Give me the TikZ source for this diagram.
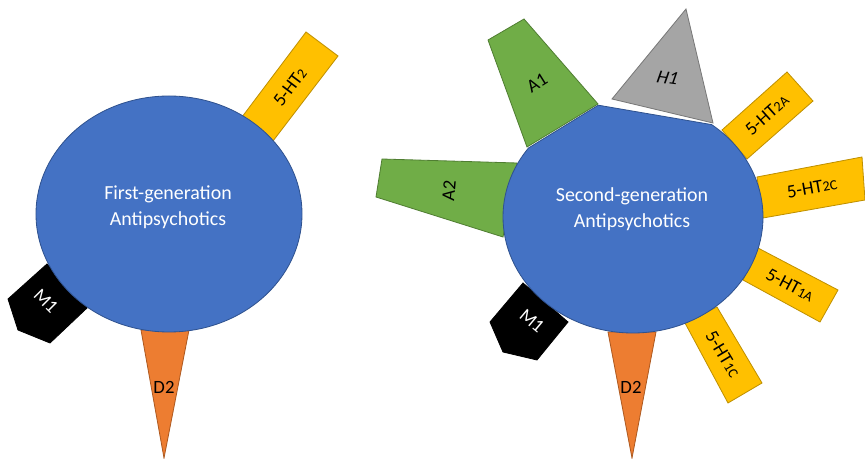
\documentclass[tikz,border=0pt]{standalone}
\usepackage{fontspec}
\setmainfont{Carlito}
\usepackage{tikz}

\definecolor{cellblue}{HTML}{4472C4}
\definecolor{celledge}{HTML}{2F528F}
\definecolor{htyellow}{HTML}{FFC000}
\definecolor{htedge}{HTML}{BF9000}
\definecolor{agreen}{HTML}{70AD47}
\definecolor{aedge}{HTML}{507E32}
\definecolor{dorange}{HTML}{ED7D31}
\definecolor{dedge}{HTML}{AE5A21}
\definecolor{hgray}{HTML}{A5A5A5}
\definecolor{hedge}{HTML}{787878}

\newcommand{\lo}[1]{{\fontsize{12}{12}\selectfont #1}}

\begin{document}
\begin{tikzpicture}[x=0.3mm, y=0.3mm, line width=0.7pt,
    cell/.style={fill=cellblue, draw=celledge},
    ht/.style={fill=htyellow, draw=htedge},
    alpha/.style={fill=agreen, draw=aedge},
    dopa/.style={fill=dorange, draw=dedge},
    hist/.style={fill=hgray, draw=hedge},
    musc/.style={fill=black, draw=black},
    lbl/.style={font=\fontsize{16}{19}\selectfont, inner sep=0pt},
    title/.style={font=\fontsize{17}{22}\selectfont, text=white, align=center}]
    \useasboundingbox (0,0) rectangle (865,459);

    % first generation
    \filldraw[ht] (242,342) -- (306,427) -- (338,403) -- (273,318) -- cycle;
    \filldraw[musc] (47,195) -- (87,151) -- (50,116) -- (18,129) -- (8,160) -- cycle;
    \filldraw[dopa] (141,129) -- (189,129) -- (164,1) -- cycle;
    \filldraw[cell] (169,245) ellipse [x radius=39.9mm, y radius=35.4mm];
    \node[title] (fga) at (168,252) {First-generation\\Antipsychotics};
    \node[lbl, rotate=53] (ht2) at (290,372) {5-HT\lo{2}};
    \node[lbl, rotate=-45, text=white] (m1a) at (46,158) {M1};
    \node[lbl] (d2a) at (164,72) {D2};

    % second generation
    \filldraw[alpha] (488,419) -- (524,440) -- (598,355) -- (527,312) -- cycle;
    \filldraw[alpha] (382,300) -- (517,296) -- (503,222) -- (376,262) -- cycle;
    \filldraw[hist] (686,450) -- (713,336) -- (612,360) -- cycle;
    \filldraw[ht] (722,329) -- (787,387) -- (813,358) -- (747,300) -- cycle;
    \filldraw[ht] (757,282) -- (862,302) -- (865,259) -- (763,241) -- cycle;
    \filldraw[ht] (758,211) -- (838,169) -- (820,137) -- (743,179) -- cycle;
    \filldraw[ht] (717,152) -- (762,76) -- (728,56) -- (685,136) -- cycle;
    \filldraw[musc] (523,176) -- (568,137) -- (537,99) -- (503,107) -- (490,137) -- cycle;
    \filldraw[dopa] (608,127) -- (656,127) -- (632,1) -- cycle;
    \filldraw[cell] (598.3,353.8) -- (711.6,334.4)
        arc[start angle=52.8, end angle=-216.5, x radius=39mm, y radius=34.8mm] -- cycle;
    \node[title] (sga) at (632,250) {Second-generation\\Antipsychotics};
    \node[lbl, rotate=32] (a1) at (537,376) {A1};
    \node[lbl, rotate=85] (a2) at (449,268) {A2};
    \node[lbl, rotate=-8, xslant=0.2] (h1) at (668,381) {H1};
    \node[lbl, rotate=42] (ht2a) at (767,344) {5-HT\lo{2A}};
    \node[lbl, rotate=10] (ht2c) at (812,271) {5-HT\lo{2C}};
    \node[lbl, rotate=-28] (ht1a) at (790,174) {5-HT\lo{1A}};
    \node[lbl, rotate=-59] (ht1c) at (723,105) {5-HT\lo{1C}};
    \node[lbl, rotate=-40, text=white] (m1b) at (532,138) {M1};
    \node[lbl] (d2b) at (631,72) {D2};
\end{tikzpicture}
\end{document}
